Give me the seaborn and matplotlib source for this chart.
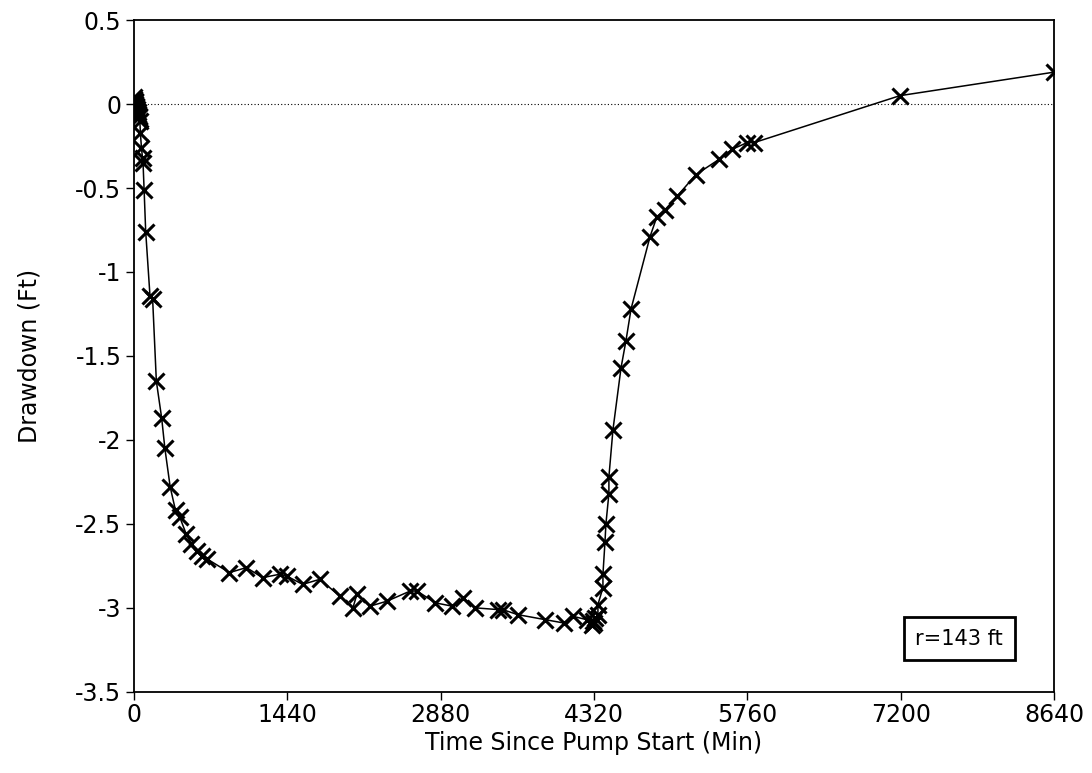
import matplotlib
matplotlib.use("Agg")
import matplotlib.pyplot as plt
import seaborn as sns
import pandas as pd

# Time since pump start (minutes) and measured drawdown (ft)
time_min = [0, 3, 6, 9, 12, 15, 20, 25, 30, 35, 40, 45, 50, 55,
            60, 70, 80, 85, 95, 110, 150, 175, 210, 260, 290, 340,
            390, 430, 490, 540, 590, 640, 690, 896, 1056, 1207, 1367,
            1433, 1584, 1745, 1933, 2056, 2093, 2216, 2376, 2593, 2659,
            2829, 2989, 3093, 3206, 3414, 3461, 3602, 3860, 4036, 4121,
            4250, 4300, 4310, 4320, 4330, 4357, 4357, 4404, 4404, 4423,
            4432, 4460, 4460, 4498, 4574, 4620, 4668, 4846, 4911, 4986,
            5099, 5277, 5493, 5615, 5756, 5822, 7193, 8640]
drawdown_ft = [0.04, 0.03, 0.02, 0.01, 0.0, -0.01, -0.02, -0.03, -0.04,
               -0.05, -0.06, -0.07, -0.08, -0.10,
               -0.17, -0.26, -0.32, -0.35, -0.51, -0.76, -1.14, -1.16,
               -1.65, -1.87, -2.05, -2.28, -2.42, -2.46, -2.56, -2.62,
               -2.66, -2.69, -2.71, -2.79, -2.76, -2.82, -2.80, -2.81,
               -2.86, -2.83, -2.93, -3.00, -2.92, -2.99, -2.96, -2.90,
               -2.90, -2.97, -2.99, -2.94, -3.00, -3.01, -3.01, -3.04,
               -3.07, -3.09, -3.05, -3.07, -3.10, -3.08, -3.09, -3.06,
               -3.04, -2.98, -2.88, -2.80, -2.61, -2.50, -2.32, -2.22,
               -1.94, -1.57, -1.41, -1.22, -0.79, -0.67, -0.63, -0.55,
               -0.42, -0.33, -0.27, -0.23, -0.23, 0.05, 0.19]

x_ticks = [0, 1440, 2880, 4320, 5760, 7200, 8640]
y_ticks = [0.5, 0, -0.5, -1, -1.5, -2, -2.5, -3, -3.5]
y_tick_labels = ["0.5", "0", "-0.5", "-1", "-1.5", "-2", "-2.5", "-3", "-3.5"]

df = pd.DataFrame({"time": time_min, "drawdown": drawdown_ft})

sns.set_theme(style="white")
plt.rcParams["font.family"] = ["DejaVu Sans"]
plt.rcParams["text.color"] = "black"
plt.rcParams["axes.labelcolor"] = "black"

fig = plt.figure(figsize=(10.92, 7.73), dpi=100)
ax = fig.add_axes([0.1227, 0.105, 0.8425, 0.869])

sns.lineplot(data=df, x="time", y="drawdown", ax=ax, sort=False,
             estimator=None, color="black", linewidth=1.1,
             marker="x", markersize=12, markeredgewidth=2.2,
             markeredgecolor="black")

# zero-drawdown reference
ax.plot([0, 8640], [0, 0], linestyle=(0, (1, 2)), color="black",
        linewidth=0.8, zorder=1)

ax.set_xlim(0, 8640)
ax.set_ylim(-3.5, 0.5)
ax.set_xticks(x_ticks)
ax.set_xticklabels([str(t) for t in x_ticks])
ax.set_yticks(y_ticks)
ax.set_yticklabels(y_tick_labels)

for side in ["left", "right", "top", "bottom"]:
    ax.spines[side].set_visible(True)
    ax.spines[side].set_color("black")
    ax.spines[side].set_linewidth(1.3)

ax.tick_params(axis="both", direction="out", length=6, width=1.0,
               colors="black", labelsize=17, pad=3,
               bottom=True, left=True)
ax.tick_params(axis="x", pad=2)

ax.set_xlabel("Time Since Pump Start (Min)", fontsize=17)
ax.set_ylabel("Drawdown (Ft)", fontsize=17)
ax.xaxis.set_label_coords(0.5, -0.058)
ax.yaxis.set_label_coords(-0.1, 0.5)

ax.text(7750, -3.185, "r=143 ft", fontsize=15, ha="center", va="center",
        bbox=dict(boxstyle="square,pad=0.55", facecolor="white",
                  edgecolor="black", linewidth=2.0))

fig.savefig("out.png", dpi=100)
